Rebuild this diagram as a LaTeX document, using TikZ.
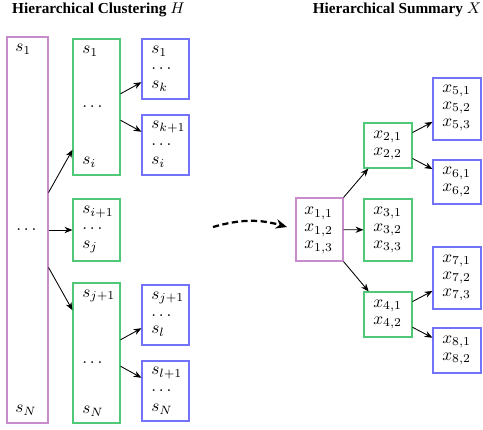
\documentclass[tikz,border=0pt]{standalone}
\usepackage{fontspec}
\setmainfont{Liberation Serif}
\usetikzlibrary{arrows.meta,calc}
\definecolor{cpurple}{RGB}{200,140,205}
\definecolor{cgreen}{RGB}{80,200,120}
\definecolor{cblue}{RGB}{115,115,250}
\tikzset{
  bx/.style n args={2}{draw, line width=0.6pt, inner sep=0pt, minimum width=#1*0.58pt, minimum height=#2*0.58pt},
  pbx/.style n args={2}{bx={#1}{#2}, draw=cpurple},
  gbx/.style n args={2}{bx={#1}{#2}, draw=cgreen},
  bbx/.style n args={2}{bx={#1}{#2}, draw=cblue},
  txt/.style={anchor=west, inner sep=0pt, font=\fontsize{10}{12}\selectfont},
  ttl/.style={inner sep=0pt, font=\fontsize{8.85}{11}\selectfont\bfseries},
  arr/.style={-{Stealth[length=4.6pt,width=3.6pt]}, line width=0.5pt},
  darr/.style={-{Stealth[length=6.5pt,width=5.5pt]}, line width=1.3pt, dash pattern=on 3.6pt off 2pt},
}
\begin{document}
\begin{tikzpicture}[x=0.58pt,y=-0.58pt]
\useasboundingbox (0,0) rectangle (483,429);
% titles
\node[ttl] (t1) at (98.5,10) {Hierarchical Clustering $H$};
\node[ttl] (t2) at (397,10) {Hierarchical Summary $X$};
% left boxes
\node[pbx={41}{386}] (P) at (27.5,230) {};
\node[gbx={47}{136}] (G1) at (96.5,107) {};
\node[gbx={47}{62}] (G2) at (96.5,230) {};
\node[gbx={47}{140}] (G3) at (96.5,353) {};
\node[bbx={47}{60}] (B1) at (165.5,69) {};
\node[bbx={47}{60}] (B2) at (165.5,145) {};
\node[bbx={47}{60}] (B3) at (165.5,315) {};
\node[bbx={47}{60}] (B4) at (165.5,391) {};
% left texts
\node[txt] (p1) at (15,49) {$s_1$};
\node[txt] (p2) at (16,230) {$\dots$};
\node[txt] (p3) at (15,410) {$s_N$};
\node[txt] (g11) at (82,51) {$s_1$};
\node[txt] (g12) at (82,107) {$\dots$};
\node[txt] (g13) at (82,162) {$s_i$};
\node[txt] (g21) at (82,212) {$s_{i+1}$};
\node[txt] (g22) at (82,229) {$\dots$};
\node[txt] (g23) at (82,247) {$s_j$};
\node[txt] (g31) at (82,296) {$s_{j+1}$};
\node[txt] (g32) at (82,363) {$\dots$};
\node[txt] (g33) at (82,411) {$s_N$};
\node[txt] (b11) at (151,51) {$s_1$};
\node[txt] (b12) at (151,69) {$\dots$};
\node[txt] (b13) at (151,86) {$s_k$};
\node[txt] (b21) at (151,127) {$s_{k+1}$};
\node[txt] (b22) at (151,145) {$\dots$};
\node[txt] (b23) at (151,162) {$s_i$};
\node[txt] (b31) at (151,298) {$s_{j+1}$};
\node[txt] (b32) at (151,316) {$\dots$};
\node[txt] (b33) at (151,331) {$s_l$};
\node[txt] (b41) at (151,373) {$s_{l+1}$};
\node[txt] (b42) at (151,391) {$\dots$};
\node[txt] (b43) at (151,409) {$s_N$};
% left arrows
\draw[arr] (P) -- (G1);
\draw[arr] (P) -- (G2);
\draw[arr] (P) -- (G3);
\draw[arr] (G1) -- (B1);
\draw[arr] (G1) -- (B2);
\draw[arr] (G3) -- (B3);
\draw[arr] (G3) -- (B4);
% right boxes
\node[pbx={47}{63}] (X1) at (319.5,229.5) {};
\node[gbx={48}{45}] (X2) at (388,145.5) {};
\node[gbx={48}{62}] (X3) at (388,230) {};
\node[gbx={48}{45}] (X4) at (388,314.5) {};
\node[bbx={48}{62}] (X5) at (457,109) {};
\node[bbx={48}{44}] (X6) at (457,182) {};
\node[bbx={48}{62}] (X7) at (457,278) {};
\node[bbx={48}{45}] (X8) at (457,350.5) {};
% right texts
\node[txt] (x11) at (304,213.5) {$x_{1,1}$};
\node[txt] (x12) at (304,230.5) {$x_{1,2}$};
\node[txt] (x13) at (304,247.5) {$x_{1,3}$};
\node[txt] (x21) at (373,137) {$x_{2,1}$};
\node[txt] (x22) at (373,154) {$x_{2,2}$};
\node[txt] (x31) at (373,213) {$x_{3,1}$};
\node[txt] (x32) at (373,230) {$x_{3,2}$};
\node[txt] (x33) at (373,247) {$x_{3,3}$};
\node[txt] (x41) at (373,306) {$x_{4,1}$};
\node[txt] (x42) at (373,323) {$x_{4,2}$};
\node[txt] (x51) at (442,91) {$x_{5,1}$};
\node[txt] (x52) at (442,108) {$x_{5,2}$};
\node[txt] (x53) at (442,125) {$x_{5,3}$};
\node[txt] (x61) at (442,173.5) {$x_{6,1}$};
\node[txt] (x62) at (442,190.5) {$x_{6,2}$};
\node[txt] (x71) at (442,261) {$x_{7,1}$};
\node[txt] (x72) at (442,278) {$x_{7,2}$};
\node[txt] (x73) at (442,295) {$x_{7,3}$};
\node[txt] (x81) at (442,342) {$x_{8,1}$};
\node[txt] (x82) at (442,359) {$x_{8,2}$};
% right arrows
\draw[arr] (X1.north east) -- (X2);
\draw[arr] (X1) -- (X3);
\draw[arr] (X1.south east) -- (X4);
\draw[arr] (X2) -- (X5);
\draw[arr] (X2) -- (X6);
\draw[arr] (X4) -- (X7);
\draw[arr] (X4) -- (X8);
% dashed transition arrow
\coordinate (da) at (213,227);
\coordinate (db) at (287,227);
\draw[darr] (da) to[bend left=16] (db);
\end{tikzpicture}
\end{document}
